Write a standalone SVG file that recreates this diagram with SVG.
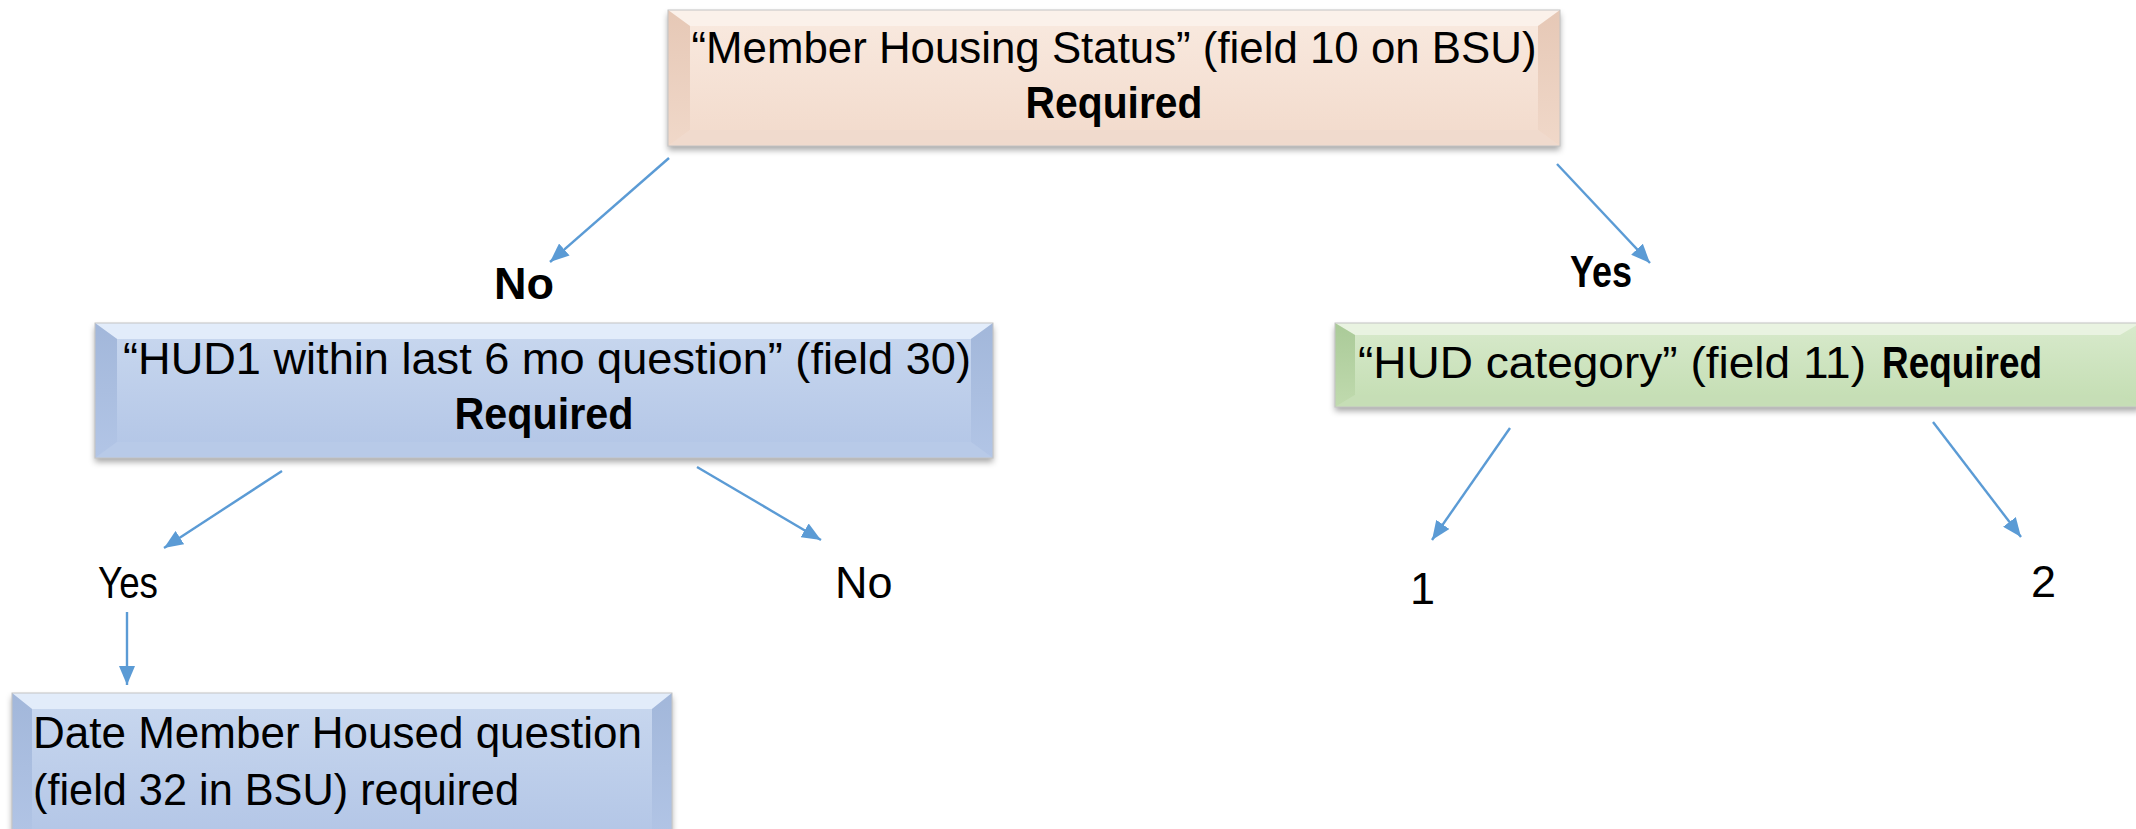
<svg xmlns="http://www.w3.org/2000/svg" width="2136" height="829" viewBox="0 0 2136 829">
<style>
.t{font-family:"Liberation Sans",Arial,sans-serif;font-size:45px;fill:#000}
.b{font-weight:bold}
.bd{stroke:#C4C4C4;stroke-width:1}
.cn{stroke:#5B9BD5;stroke-width:2.4;fill:none;marker-end:url(#ah)}
</style>
<defs>
<filter id="sh" x="-5%" y="-20%" width="110%" height="150%">
<feDropShadow dx="0" dy="4" stdDeviation="3" flood-color="#000" flood-opacity="0.35"/>
</filter>
<marker id="ah" markerUnits="userSpaceOnUse" markerWidth="20" markerHeight="16" refX="19" refY="8" orient="auto">
<path d="M0,0 L19,8 L0,16 Z" fill="#5B9BD5"/>
</marker>
<linearGradient id="gP" x1="0" y1="0" x2="0" y2="1"><stop offset="0" stop-color="#F9EAE0"/><stop offset="1" stop-color="#F2DACB"/></linearGradient>
<linearGradient id="gB" x1="0" y1="0" x2="0" y2="1"><stop offset="0" stop-color="#C9D8EF"/><stop offset="1" stop-color="#B2C5E6"/></linearGradient>
<linearGradient id="gG" x1="0" y1="0" x2="0" y2="1"><stop offset="0" stop-color="#D8EACC"/><stop offset="1" stop-color="#C3DDB2"/></linearGradient>
<linearGradient id="lP" x1="0" y1="0" x2="0" y2="1"><stop offset="0" stop-color="#E6C8B6"/><stop offset="1" stop-color="#F0D8C9"/></linearGradient>
<linearGradient id="lB" x1="0" y1="0" x2="0" y2="1"><stop offset="0" stop-color="#A2B7DA"/><stop offset="1" stop-color="#B2C5E6"/></linearGradient>
<linearGradient id="lG" x1="0" y1="0" x2="0" y2="1"><stop offset="0" stop-color="#AACA98"/><stop offset="1" stop-color="#C0DAAE"/></linearGradient>
</defs>
<rect width="2136" height="829" fill="#fff"/>

<g id="connectors">
<line class="cn" x1="669" y1="158" x2="550" y2="262"/>
<line class="cn" x1="1557" y1="164" x2="1650" y2="263"/>
<line class="cn" x1="282" y1="471" x2="164" y2="548"/>
<line class="cn" x1="697" y1="467" x2="821" y2="540"/>
<line class="cn" x1="127" y1="612" x2="127" y2="685"/>
<line class="cn" x1="1510" y1="428" x2="1432" y2="540"/>
<line class="cn" x1="1933" y1="422" x2="2021" y2="537"/>
</g>

<g id="node-housing-status">
<g filter="url(#sh)"><rect x="668" y="10" width="892" height="136" fill="url(#gP)"/></g>
<polygon points="668,10 1560,10 1538,26 690,26" fill="#FBF1EA"/>
<polygon points="668,10 690,26 690,130 668,146" fill="url(#lP)"/>
<polygon points="1560,10 1560,146 1538,130 1538,26" fill="url(#lP)"/>
<polygon points="668,146 690,130 1538,130 1560,146" fill="#F0DACD"/>
<rect class="bd" x="668" y="10" width="892" height="136" fill="none"/>
<text class="t" x="1114" y="63" text-anchor="middle" textLength="845" lengthAdjust="spacingAndGlyphs">“Member Housing Status” (field 10 on BSU)</text>
<text class="t b" x="1114" y="118" text-anchor="middle" textLength="177" lengthAdjust="spacingAndGlyphs">Required</text>
</g>

<g id="label-no-top">
<text class="t b" x="524" y="299" text-anchor="middle">No</text>
</g>
<g id="label-yes-top">
<text class="t b" x="1601" y="287" text-anchor="middle" textLength="62" lengthAdjust="spacingAndGlyphs">Yes</text>
</g>

<g id="node-hud1">
<g filter="url(#sh)"><rect x="95" y="323" width="898" height="135" fill="url(#gB)"/></g>
<polygon points="95,323 993,323 971,339 117,339" fill="#E2ECFA"/>
<polygon points="95,323 117,339 117,442 95,458" fill="url(#lB)"/>
<polygon points="993,323 993,458 971,442 971,339" fill="url(#lB)"/>
<polygon points="95,458 117,442 971,442 993,458" fill="#B8CAE8"/>
<rect class="bd" x="95" y="323" width="898" height="135" fill="none"/>
<text class="t" x="547" y="374" text-anchor="middle" textLength="848" lengthAdjust="spacingAndGlyphs">“HUD1 within last 6 mo question” (field 30)</text>
<text class="t b" x="544" y="429" text-anchor="middle" textLength="179" lengthAdjust="spacingAndGlyphs">Required</text>
</g>

<g id="node-hud-category">
<g filter="url(#sh)"><rect x="1335" y="323" width="805" height="84" fill="url(#gG)"/></g>
<polygon points="1335,323 2140,323 2120,335 1355,335" fill="#E9F3E1"/>
<polygon points="1335,323 1355,335 1355,395 1335,407" fill="url(#lG)"/>
<polygon points="1335,407 1355,395 2120,395 2140,407" fill="#C6DEB6"/>
<rect class="bd" x="1335" y="323" width="805" height="84" fill="none"/>
<text class="t" x="1358" y="378" textLength="508" lengthAdjust="spacingAndGlyphs">“HUD category” (field 11)</text>
<text class="t b" x="1882" y="378" textLength="160" lengthAdjust="spacingAndGlyphs">Required</text>
</g>

<g id="label-yes-hud1">
<text class="t" x="128" y="598" text-anchor="middle" textLength="60" lengthAdjust="spacingAndGlyphs">Yes</text>
</g>
<g id="label-no-hud1">
<text class="t" x="835" y="598">No</text>
</g>
<g id="label-1">
<text class="t" x="1410" y="604">1</text>
</g>
<g id="label-2">
<text class="t" x="2031" y="597">2</text>
</g>

<g id="node-date-housed">
<g filter="url(#sh)"><rect x="12" y="693" width="660" height="150" fill="url(#gB)"/></g>
<polygon points="12,693 672,693 652,709 32,709" fill="#E2ECFA"/>
<polygon points="12,693 32,709 32,843 12,843" fill="url(#lB)"/>
<polygon points="672,693 672,843 652,843 652,709" fill="url(#lB)"/>
<rect class="bd" x="12" y="693" width="660" height="150" fill="none"/>
<text class="t" x="33" y="748" textLength="609" lengthAdjust="spacingAndGlyphs">Date Member Housed question</text>
<text class="t" x="33" y="805" textLength="486" lengthAdjust="spacingAndGlyphs">(field 32 in BSU) required</text>
</g>
</svg>
